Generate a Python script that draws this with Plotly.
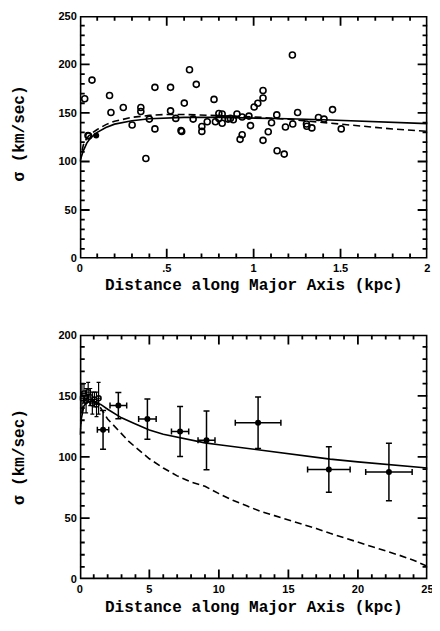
import plotly.graph_objects as go

# ---- top panel: inner region (0-2 kpc), open circles ----
top_x = [0.028, 0.070, 0.051, 0.171, 0.179, 0.250, 0.301, 0.351, 0.351, 0.380,
         0.400, 0.432, 0.432, 0.522, 0.522, 0.552, 0.582, 0.586, 0.601, 0.631,
         0.652, 0.670, 0.702, 0.702, 0.733, 0.772, 0.780, 0.800, 0.819, 0.819,
         0.800, 0.853, 0.866, 0.883, 0.904, 0.922, 0.934, 0.934, 0.973, 0.982,
         1.003, 1.024, 1.054, 1.054, 1.054, 1.084, 1.103, 1.133, 1.135, 1.176,
         1.183, 1.223, 1.225, 1.253, 1.304, 1.306, 1.335, 1.373, 1.405, 1.454,
         1.504, 0.047]
top_y = [164.7, 183.9, 126.2, 168.0, 150.5, 155.6, 137.6, 155.6, 151.5, 103.0,
         143.7, 176.4, 133.6, 176.4, 152.2, 144.4, 131.9, 130.9, 160.2, 194.6,
         143.7, 179.5, 136.0, 131.0, 141.0, 164.0, 141.0, 149.5, 149.0, 139.4,
         144.4, 143.7, 144.4, 143.0, 149.0, 122.8, 127.5, 145.8, 146.8, 137.0,
         156.2, 160.0, 173.1, 165.5, 121.8, 130.6, 140.0, 148.0, 111.0, 107.6,
         135.6, 209.8, 138.7, 150.5, 138.7, 136.3, 134.6, 145.4, 143.7, 153.5,
         133.6, 126.8]
top_fill_x = [0.094]
top_fill_y = [126.8]

# model curves, inner region
top_model_x = [0, 0.01, 0.02, 0.04, 0.06, 0.1, 0.15, 0.2, 0.3, 0.4, 0.5, 0.6,
               0.8, 1.0, 1.2, 1.4, 1.6, 1.8, 2.0]
top_solid_y = [100, 106, 111, 119, 124, 130, 135, 138.5, 142, 144, 145, 145.5,
               145.5, 145, 144, 143, 141.5, 140.5, 139]
top_dash_y = [100, 110, 117, 124, 128, 133, 138, 141.5, 145.5, 147.5, 148.5, 148.5,
              147.5, 146, 143.5, 140, 136.5, 133.5, 131]

# ---- bottom panel: full range (0-25 kpc) ----
inner_x = [0.15, 0.3, 0.45, 0.6, 0.75, 0.9, 1.05, 1.2, 1.35]
inner_y = [148, 152, 146, 153, 149, 144, 147, 143, 148]
inner_yerr = [12, 8, 10, 8, 7, 9, 6, 10, 13]
inner_xerr = [0.15, 0.15, 0.15, 0.15, 0.15, 0.15, 0.15, 0.15, 0.15]

outer_x = [1.67, 2.77, 4.86, 7.21, 9.11, 12.82, 17.91, 22.23]
outer_y = [122.2, 142.0, 131.0, 120.8, 113.6, 128.0, 89.8, 87.7]
outer_xerr = [0.41, 0.60, 0.63, 0.62, 0.61, 1.64, 1.53, 1.67]
outer_yerr = [15.8, 10.7, 16.5, 20.5, 24.0, 21.0, 18.6, 23.5]

bot_solid_x = [0, 0.1, 0.3, 0.6, 1.0, 1.5, 2, 3, 4, 5, 6, 7, 8, 9, 10, 12, 14,
               16, 18, 20, 22, 24, 25]
bot_solid_y = [118, 131, 142, 145.5, 145, 143, 139, 132, 127, 122, 118.5, 116,
               113.5, 111.5, 110, 107, 104, 101, 98.2, 96, 94, 92, 91]
bot_dash_x = [0, 0.1, 0.3, 0.6, 1.0, 1.5, 2, 2.5, 3, 3.5, 4, 5, 6, 7, 8, 9, 10,
              11, 12, 13, 14, 15, 16, 17, 18, 19, 20, 21, 22, 23, 24, 25]
bot_dash_y = [118, 133, 145.5, 148.5, 146, 140, 131, 125, 119, 113, 108, 98.5,
              91, 84.5, 79.5, 76, 70, 64.5, 60, 55.5, 52, 48.5, 45.5, 41.5, 37.5,
              34, 30, 26.5, 23, 19.5, 15.5, 10.5]

# tick labels
top_xticks = [0, 0.5, 1, 1.5, 2]
top_xlabels = ["0", ".5", "1", "1.5", "2"]
top_yticks = [0, 50, 100, 150, 200, 250]
bot_xticks = [0, 5, 10, 15, 20, 25]
bot_yticks = [0, 50, 100, 150, 200]

# page body keeps an 8px margin, so the figure is 8px smaller each way
W, H = 432, 623
X0, X1 = 70.3 / W, 425.3 / W
TOP_DOM = [1 - 249.3 / H, 1 - 2 / H]
BOT_DOM = [1 - 576.3 / H, 1 - 327 / H]
PW = 355.0          # plot width in px
TOP_PH = 247.3      # plot heights in px
BOT_PH = 249.3
MAJ, MIN = 10, 5    # tick lengths in px

fig = go.Figure()


def add_frame(xa, ya, xmax, xstep, xmajor, ymax, ystep, ymajor, ph):
    """box plus inside ticks on all four sides, drawn as line traces"""
    ux, uy = xmax / PW, ymax / ph
    fig.add_trace(go.Scatter(x=[0, xmax, xmax, 0, 0], y=[0, 0, ymax, ymax, 0],
                             mode="lines", line=dict(color="black", width=3.2),
                             hoverinfo="skip", xaxis=xa, yaxis=ya))
    tx, ty = [], []
    n = int(round(xmax / xstep))
    for i in range(1, n):
        v = i * xstep
        ln = (MAJ if i % xmajor == 0 else MIN) * uy
        tx += [v, v, None, v, v, None]
        ty += [0, ln, None, ymax, ymax - ln, None]
    n = int(round(ymax / ystep))
    for i in range(1, n):
        v = i * ystep
        ln = (MAJ if i % ymajor == 0 else MIN) * ux
        tx += [0, ln, None, xmax, xmax - ln, None]
        ty += [v, v, None, v, v, None]
    fig.add_trace(go.Scatter(x=tx, y=ty, mode="lines",
                             line=dict(color="black", width=1.8),
                             hoverinfo="skip", xaxis=xa, yaxis=ya))


add_frame("x", "y", 2, 0.1, 5, 250, 10, 5, TOP_PH)
add_frame("x2", "y2", 25, 1, 5, 200, 10, 5, BOT_PH)

line_solid = dict(color="black", width=1.6)
line_dash = dict(color="black", width=1.6, dash="7px,4px")

fig.add_trace(go.Scatter(x=top_model_x, y=top_solid_y, mode="lines",
                         line=line_solid, xaxis="x", yaxis="y"))
fig.add_trace(go.Scatter(x=top_model_x, y=top_dash_y, mode="lines",
                         line=line_dash, xaxis="x", yaxis="y"))
fig.add_trace(go.Scatter(x=top_x, y=top_y, mode="markers",
                         marker=dict(symbol="circle-open", size=6, color="black",
                                     line=dict(width=1.6)),
                         xaxis="x", yaxis="y"))
fig.add_trace(go.Scatter(x=top_fill_x, y=top_fill_y, mode="markers",
                         marker=dict(symbol="circle", size=6, color="black"),
                         xaxis="x", yaxis="y"))

fig.add_trace(go.Scatter(x=bot_solid_x, y=bot_solid_y, mode="lines",
                         line=line_solid, xaxis="x2", yaxis="y2"))
fig.add_trace(go.Scatter(x=bot_dash_x, y=bot_dash_y, mode="lines",
                         line=line_dash, xaxis="x2", yaxis="y2"))
fig.add_trace(go.Scatter(
    x=inner_x, y=inner_y, mode="markers",
    marker=dict(symbol="circle-open", size=5, color="black", line=dict(width=1.3)),
    error_x=dict(type="data", array=inner_xerr, color="black", thickness=1, width=2),
    error_y=dict(type="data", array=inner_yerr, color="black", thickness=1.2, width=2),
    xaxis="x2", yaxis="y2"))
fig.add_trace(go.Scatter(
    x=outer_x, y=outer_y, mode="markers",
    marker=dict(symbol="circle", size=6, color="black"),
    error_x=dict(type="data", array=outer_xerr, color="black", thickness=1.5, width=3),
    error_y=dict(type="data", array=outer_yerr, color="black", thickness=1.5, width=3),
    xaxis="x2", yaxis="y2"))

tick_font = dict(family="Liberation Sans", size=11, color="black")


def bold(labels):
    return [f"<b>{t}</b>" for t in labels]


ax = dict(showgrid=False, zeroline=False, showline=False, ticks="",
          tickfont=tick_font, ticklabelstandoff=2)

fig.update_layout(
    width=W, height=H,
    margin=dict(l=0, r=0, t=0, b=0),
    paper_bgcolor="white", plot_bgcolor="white",
    showlegend=False,
    xaxis=dict(domain=[X0, X1], anchor="y", range=[0, 2], tickvals=top_xticks,
               ticktext=bold(top_xlabels), **ax),
    yaxis=dict(domain=TOP_DOM, anchor="x", range=[0, 250], tickvals=top_yticks,
               ticktext=bold(top_yticks), **ax),
    xaxis2=dict(domain=[X0, X1], anchor="y2", range=[0, 25], tickvals=bot_xticks,
                ticktext=bold(bot_xticks), **ax),
    yaxis2=dict(domain=BOT_DOM, anchor="x2", range=[0, 200], tickvals=bot_yticks,
                ticktext=bold(bot_yticks), **ax),
)

title_font = dict(family="Liberation Mono", size=16, color="black")
xtitle = "<b>Distance along Major Axis (kpc)</b>"
ytitle = "<b>σ (km/sec)</b>"
for yc in [1 - 277 / H, 1 - 606 / H]:
    fig.add_annotation(text=xtitle, x=(X0 + X1) / 2, y=yc, xref="paper", yref="paper",
                       showarrow=False, font=title_font, xanchor="center", yanchor="middle")
for yc in [1 - 122 / H, 1 - 452 / H]:
    fig.add_annotation(text=ytitle, x=9 / W, y=yc, xref="paper", yref="paper",
                       showarrow=False, font=title_font, textangle=-90,
                       xanchor="center", yanchor="middle")

fig.write_html("out.html")
